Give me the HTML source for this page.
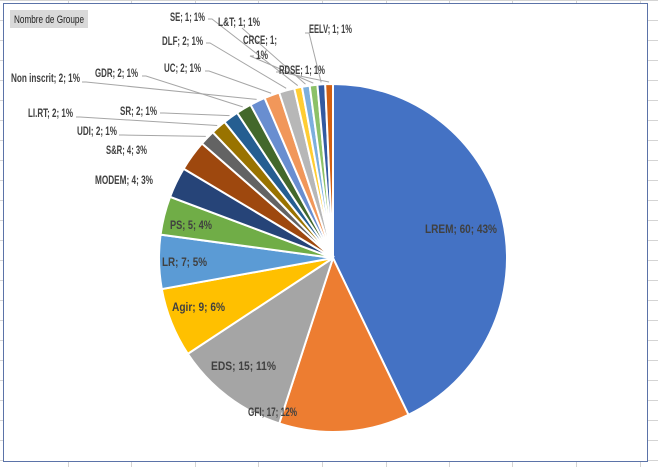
<!DOCTYPE html>
<html><head><meta charset="utf-8">
<style>
html,body{margin:0;padding:0;background:#fff;}
svg{display:block;}
text{font-family:"Liberation Sans",sans-serif;font-weight:bold;font-size:12px;fill:#404040;}
</style></head>
<body>
<svg id="s" width="658" height="467" viewBox="0 0 658 467" xmlns="http://www.w3.org/2000/svg">
<g stroke="#d4d4d4" stroke-width="1" id="grid"></g>
<rect x="3.5" y="3.5" width="644" height="458" fill="#fff" stroke="#5b73a8" stroke-width="1"/>
<rect x="10" y="10" width="78" height="18" fill="#d9d9d9"/>
<text x="14" y="23" style="font-weight:normal;font-size:11px;fill:#222" textLength="70" lengthAdjust="spacingAndGlyphs">Nombre de Groupe</text>
<g id="pie"></g>
<g id="lines" stroke="#a6a6a6" stroke-width="1" fill="none"></g>
<g id="labels"></g>
</svg>
<script>
var NS="http://www.w3.org/2000/svg";
function el(p,t,a,txt){var e=document.createElementNS(NS,t);for(var k in a)e.setAttribute(k,a[k]);if(txt)e.textContent=txt;p.appendChild(e);return e;}
var grid=document.getElementById('grid');
[68,131,195,258,322,386,449,512,576,640].forEach(function(x){el(grid,'line',{x1:x+.5,y1:0,x2:x+.5,y2:467});});
for(var y=0;y<467;y+=20)el(grid,'line',{x1:0,y1:y+.5,x2:658,y2:y+.5});
var data=[["LREM",60,"#4472c4"],["GFI",17,"#ed7d31"],["EDS",15,"#a5a5a5"],["Agir",9,"#ffc000"],["LR",7,"#5b9bd5"],["PS",5,"#70ad47"],["MODEM",4,"#264478"],["S&R",4,"#9e480e"],["UDI",2,"#636363"],["LI.RT",2,"#997300"],["SR",2,"#255e91"],["GDR",2,"#43682b"],["Non inscrit",2,"#698ed0"],["UC",2,"#f1975a"],["DLF",2,"#b7b7b7"],["SE",1,"#ffcd33"],["L&T",1,"#7cafdd"],["CRCE",1,"#8cc168"],["EELV",1,"#335aa1"],["RDSE",1,"#d26012"]];
var cx=333,cy=258,r=174,tot=140,a=-Math.PI/2,pie=document.getElementById('pie');
var mids={};
data.forEach(function(d){var a2=a+d[1]/tot*2*Math.PI;
var x1=cx+r*Math.cos(a),y1=cy+r*Math.sin(a),x2=cx+r*Math.cos(a2),y2=cy+r*Math.sin(a2);
el(pie,'path',{d:"M"+cx+","+cy+"L"+x1+","+y1+"A"+r+","+r+" 0 "+((a2-a)>Math.PI?1:0)+" 1 "+x2+","+y2+"Z",fill:d[2],stroke:"#fff","stroke-width":2});
var m=(a+a2)/2;mids[d[0]]=[cx+(r+2)*Math.cos(m),cy+(r+2)*Math.sin(m)];a=a2;});
var lab=document.getElementById('labels'),ln=document.getElementById('lines');
function L(t,x,y,w){el(lab,'text',{x:x,y:y,textLength:w,lengthAdjust:"spacingAndGlyphs"},t);}
L("LREM; 60; 43%",425,233,72);
L("GFI; 17; 12%",248,416,49);
L("EDS; 15; 11%",211,370,65);
L("Agir; 9; 6%",172,311,53);
L("LR; 7; 5%",162,266,45);
L("PS; 5; 4%",170,229,42);
L("MODEM; 4; 3%",95,184,58);
L("S&R; 4; 3%",106,154,41);
var ext=[["UDI",77,135,40,119,135],["LI.RT",28,117,45,76,117],["SR",120,115,37,160,113],["GDR",95,77,43,142,76],["Non inscrit",11,82,69,82,82],["UC",164,72,37,205,71],["DLF",162,45,41,206,43],["SE",170,21,35,208,19],["L&T",218,26,42,242,28],["EELV",309,33,43,305,33],["RDSE",279,74,46,276,72]];
ext.forEach(function(e){var t=e[0]+"; "+(data.filter(function(d){return d[0]==e[0]})[0][1])+"; 1%";L(t,e[1],e[2],e[3]);
var m=mids[e[0]];el(ln,'polyline',{points:e[4]+","+e[5]+" "+(e[4]+ (e[0]=="L&T"?0:4))+","+e[5]+" "+m[0]+","+m[1]});});
L("CRCE; 1;",243,44,34);L("1%",256,59,12);
var m=mids["CRCE"];el(ln,'polyline',{points:"254,56 250,56 "+m[0]+","+m[1]});
</script>
</body></html>
